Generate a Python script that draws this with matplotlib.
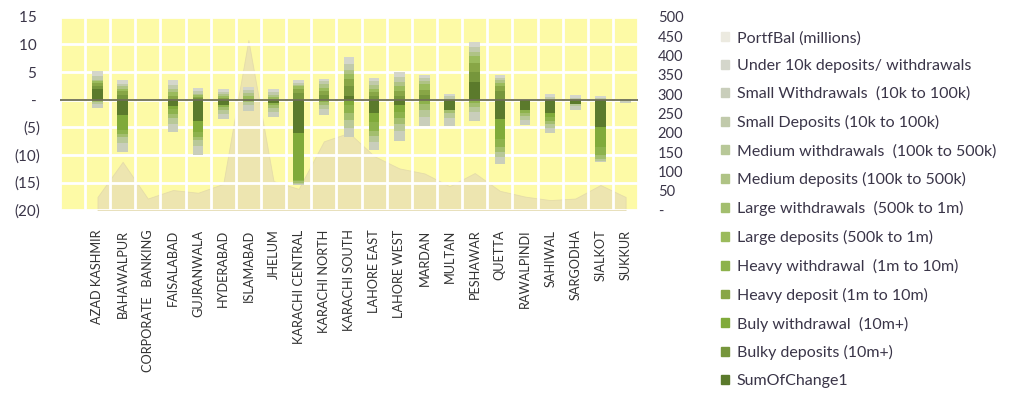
import matplotlib.pyplot as plt
import matplotlib.patches as mpatches
import numpy as np

branches = ["AZAD KASHMIR", "BAHAWALPUR", "CORPORATE   BANKING", "FAISALABAD",
            "GUJRANWALA", "HYDERABAD", "ISLAMABAD", "JHELUM", "KARACHI CENTRAL",
            "KARACHI NORTH", "KARACHI SOUTH", "LAHORE EAST", "LAHORE WEST",
            "MARDAN", "MULTAN", "PESHAWAR", "QUETTA", "RAWALPINDI", "SAHIWAL",
            "SARGODHA", "SIALKOT", "SUKKUR"]

# secondary axis (millions)
portf_bal = [34, 125, 30, 52, 45, 68, 440, 75, 55, 178, 200, 140, 108, 95,
             62, 96, 50, 35, 26, 30, 65, 34]

# stacked series, listed from the one nearest zero outwards
sum_change = [1.9, -2.7, 0, -1.1, -3.9, -0.9, -0.2, -0.6, -6.1, 0.2, 0.6, -2.5,
              -1.0, 0, -1.9, 3.2, -3.5, -1.9, -2.5, -0.7, -5.0, 0]
bulky_dep = [0.5, 0.9, 0, 0.2, 0.3, 0, 0, 0, 1.2, 0.6, 1.8, 0.6,
             0.7, 0.8, 0, 1.8, 1.5, 0, 0, 0, 0, 0]
bulky_wd = [0, -2.8, 0, -0.6, -2.0, 0, 0, 0, -8.4, 0, -1.0, -1.6,
            -1.3, 0, 0, 0, -3.6, 0, -0.6, 0, -3.5, 0]
heavy_dep = [0.6, 0.6, 0, 0.5, 0.2, 0.3, 0.2, 0.2, 0.7, 0.7, 1.3, 0.7,
             0.8, 1.0, 0, 1.6, 1.0, 0, 0, 0, 0, 0]
heavy_wd = [-0.2, -0.7, 0, -0.9, -0.8, -0.5, 0, -0.4, -0.3, -0.4, -1.5, -1.5,
            -1.1, -0.8, 0, -0.6, -1.5, -0.5, -0.8, 0, -1.6, 0]
large_dep = [0.3, 0.5, 0, 0.6, 0.3, 0.3, 0.4, 0.3, 0.5, 0.7, 0.9, 0.7,
             0.9, 1.1, 0, 1.3, 0.6, 0, 0, 0, 0, 0]
large_wd = [-0.2, -0.5, 0, -0.8, -0.6, -0.5, -0.3, -0.5, -0.2, -0.5, -1.2, -0.9,
            -1.0, -1.0, -0.5, -0.7, -0.8, -0.6, -0.5, 0, -0.6, 0]
medium_dep = [0.3, 0.4, 0, 0.6, 0.3, 0.4, 0.6, 0.4, 0.3, 0.6, 0.7, 0.6,
              0.8, 0.5, 0.2, 0.7, 0.4, 0, 0, 0, 0, 0]
medium_wd = [-0.3, -1.2, 0, -1.0, -1.1, -0.7, -0.5, -0.7, -0.2, -0.8, -1.4, -1.2,
             -1.3, -1.3, -1.0, -1.0, -0.9, -0.7, -0.7, -0.4, -0.4, 0]
small_dep = [0.7, 0.5, 0, 0.8, 0.5, 0.4, 0.5, 0.5, 0.4, 0.5, 1.1, 0.7,
             0.9, 0.5, 0.4, 0.9, 0.4, 0, 0.4, 0.3, 0.3, 0]
small_wd = [-0.8, -1.5, 0, -1.4, -1.6, -0.9, -1.1, -1.0, -0.3, -1.0, -1.7, -1.5,
            -1.7, -1.7, -1.4, -1.5, -1.3, -0.8, -1.0, -0.7, -0.2, -0.6]
under_10k = [0.9, 0.7, 0, 0.8, 0.5, 0.5, 0.6, 0.5, 0.5, 0.5, 1.4, 0.7,
             0.9, 0.5, 0.4, 1.0, 0.5, 0, 0.6, 0.5, 0.4, 0.2]

series = [
    ("SumOfChange1", sum_change, "#5b7a2c"),
    ("Bulky deposits (10m+)", bulky_dep, "#76963c"),
    ("Buly withdrawal  (10m+)", bulky_wd, "#80aa3a"),
    ("Heavy deposit (1m to 10m)", heavy_dep, "#88a646"),
    ("Heavy withdrawal  (1m to 10m)", heavy_wd, "#8db24c"),
    ("Large deposits (500k to 1m)", large_dep, "#9bbb5c"),
    ("Large withdrawals  (500k to 1m)", large_wd, "#a3be6e"),
    ("Medium deposits (100k to 500k)", medium_dep, "#afc385"),
    ("Medium withdrawals  (100k to 500k)", medium_wd, "#b8c898"),
    ("Small Deposits (10k to 100k)", small_dep, "#c1caab"),
    ("Small Withdrawals  (10k to 100k)", small_wd, "#c9cebb"),
    ("Under 10k deposits/ withdrawals", under_10k, "#d4d6cb"),
]

plt.rcParams["font.family"] = ["Lato", "DejaVu Sans"]
txt = "#3a3548"

fig = plt.figure(figsize=(10.13, 4.01), dpi=100)
ax = fig.add_axes([0.059, 0.476, 0.571, 0.482])
ax2 = ax.twinx()
ax.set_zorder(ax2.get_zorder() + 1)
ax.patch.set_visible(False)
ax2.patch.set_visible(True)
ax2.set_facecolor("#fdfaa6")

x = np.arange(len(branches))

# PortfBal area behind the bars
ax2.fill_between(x, portf_bal, color="#e8dfb4", alpha=0.75, lw=0.6,
                 edgecolor="#e0d6a8")
ax2.set_ylim(0, 500)
ax2.set_yticks(np.arange(0, 501, 50))
ax2.set_yticklabels(["-" if v == 0 else str(v) for v in range(0, 501, 50)],
                    fontsize=10.5, color=txt)

pos_base = np.zeros(len(branches))
neg_base = np.zeros(len(branches))
for name, vals, col in series:
    v = np.array(vals, dtype=float)
    bottom = np.where(v >= 0, pos_base, neg_base)
    ax.bar(x, v, 0.42, bottom=bottom, color=col, zorder=3, label=name)
    pos_base += np.where(v >= 0, v, 0)
    neg_base += np.where(v < 0, v, 0)

ax.axhline(0, color="#6e6f55", lw=1.3, zorder=4)

ax.set_xlim(-1.5, len(branches) - 0.5)
ax.set_ylim(-20, 15)
yt = np.arange(-20, 16, 5)
ax.set_yticks(yt)
ax.set_yticklabels(["- " if v == 0 else (f"({-v})" if v < 0 else f"{v} ")
                    for v in yt], fontsize=11, color=txt)
ax.set_xticks(x)
ax.set_xticklabels(branches, rotation=90, fontsize=9.2, color="#333333",
                   va="top")
ax.set_xticks(np.arange(-1.5, len(branches), 1), minor=True)
ax.grid(True, which="minor", axis="x", color="white", lw=2, zorder=1)
ax.grid(True, which="major", axis="y", color="white", lw=2, zorder=1)
ax.tick_params(axis="both", which="both", length=0)
ax.tick_params(axis="y", pad=14)
ax.tick_params(axis="x", pad=14)
ax2.tick_params(axis="y", length=0, pad=14)
for a in (ax, ax2):
    for s in a.spines.values():
        s.set_visible(False)

# legend, PortfBal first then the stack from outermost to innermost
leg_h = [mpatches.Patch(color="#eceae0")]
leg_l = ["PortfBal (millions)"]
for name, vals, col in reversed(series):
    leg_h.append(mpatches.Patch(color=col))
    leg_l.append(name)
leg = fig.legend(leg_h, leg_l, loc="upper left", bbox_to_anchor=(0.712, 0.923),
                 frameon=False, fontsize=11.5, handlelength=0.48,
                 handleheight=0.48, handletextpad=0.5, labelspacing=0.865,
                 borderpad=0, borderaxespad=0)
for t in leg.get_texts():
    t.set_color(txt)

fig.savefig("out.png", dpi=100)
plt.close()
